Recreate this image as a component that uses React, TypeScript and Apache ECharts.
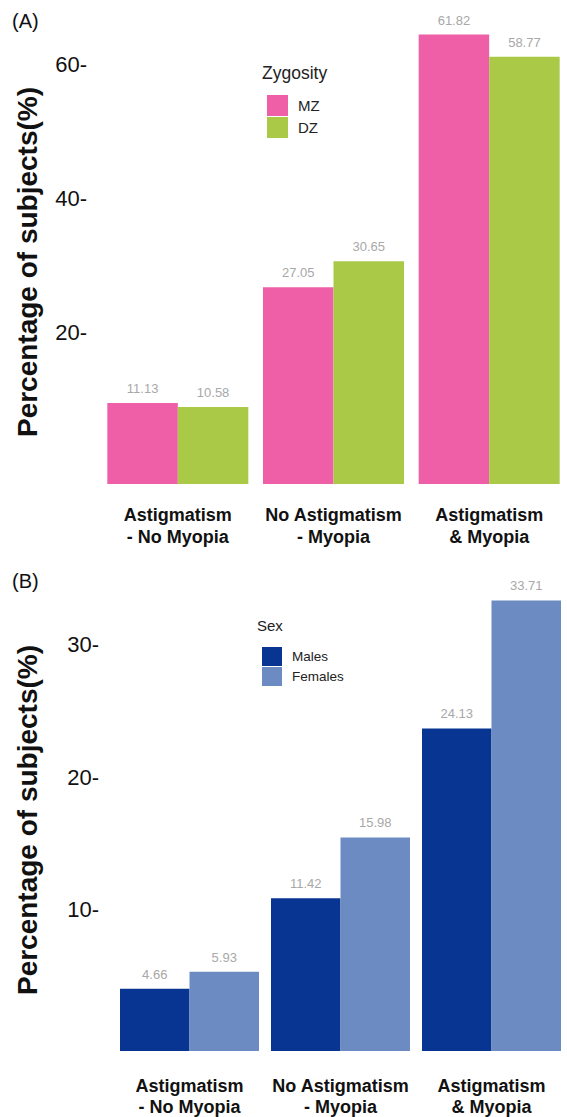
import React, { useEffect, useRef } from "react";
import * as echarts from "echarts";

const categories = ["Astigmatism\n- No Myopia", "No Astigmatism\n- Myopia", "Astigmatism\n& Myopia"];
const mzValues = [11.13, 27.05, 61.82];
const dzValues = [10.58, 30.65, 58.77];
const malesValues = [4.66, 11.42, 24.13];
const femalesValues = [5.93, 15.98, 33.71];
const tickLabelsA = [20, 40, 60];
const tickLabelsB = [10, 20, 30];

const FONT = "'Liberation Sans', Arial, Helvetica, sans-serif";

export default function App() {
  const ref = useRef<HTMLDivElement>(null);
  useEffect(() => {
    document.body.style.margin = "0";
    const chart = echarts.init(ref.current!, null, { renderer: "svg" });
    const valueLabel = {
      show: true,
      position: "top",
      distance: 8,
      color: "#a8a8a8",
      fontSize: 13,
      fontFamily: FONT,
    };
    const xAxisBase = {
      type: "category",
      data: categories,
      axisLine: { show: false },
      axisTick: { show: false },
      splitLine: { show: false },
    };
    const option: any = {
      animation: false,
      backgroundColor: "#ffffff",
      grid: [
        { left: 100, width: 469, top: 20, height: 464 },
        { left: 114, width: 463, top: 575, height: 479 },
      ],
      xAxis: [
        {
          ...xAxisBase,
          gridIndex: 0,
          axisLabel: { interval: 0, hideOverlap: false, fontFamily: FONT, fontSize: 18, fontWeight: "bold", color: "#111", lineHeight: 22, margin: 20 },
        },
        {
          ...xAxisBase,
          gridIndex: 1,
          axisLabel: { interval: 0, hideOverlap: false, fontFamily: FONT, fontSize: 18, fontWeight: "bold", color: "#111", lineHeight: 21, margin: 24 },
        },
      ],
      yAxis: [
        {
          type: "value", gridIndex: 0, min: 0, max: 63.82,
          axisLine: { show: false }, axisTick: { show: false }, axisLabel: { show: false }, splitLine: { show: false },
        },
        {
          type: "value", gridIndex: 0, position: "left", min: -2.77, max: 66.74,
          axisLine: { show: false }, axisTick: { show: false }, splitLine: { show: false },
          axisLabel: {
            customValues: tickLabelsA,
            formatter: (v: number) => v + "-",
            fontFamily: FONT, fontSize: 22, color: "#111", margin: 13,
          },
        },
        {
          type: "value", gridIndex: 1, min: 0, max: 35.61,
          axisLine: { show: false }, axisTick: { show: false }, axisLabel: { show: false }, splitLine: { show: false },
        },
        {
          type: "value", gridIndex: 1, position: "left", min: -0.64, max: 35.24,
          axisLine: { show: false }, axisTick: { show: false }, splitLine: { show: false },
          axisLabel: {
            customValues: tickLabelsB,
            formatter: (v: number) => v + "-",
            fontFamily: FONT, fontSize: 22, color: "#111", margin: 15,
          },
        },
      ],
      legend: [
        {
          data: ["MZ", "DZ"], orient: "vertical", left: 262, top: 90,
          itemWidth: 21, itemHeight: 21, itemGap: 1, icon: "rect",
          textStyle: { fontFamily: FONT, fontSize: 15, color: "#222", padding: [0, 0, 0, 5] },
          selectedMode: false,
        },
        {
          data: ["Males", "Females"], orient: "vertical", left: 257, top: 642,
          itemWidth: 20, itemHeight: 19, itemGap: 1, icon: "rect",
          textStyle: { fontFamily: FONT, fontSize: 13.5, color: "#222", padding: [0, 0, 0, 5] },
          selectedMode: false,
        },
      ],
      graphic: [
        { type: "text", x: 12, y: 21, style: { text: "(A)", font: `20px ${FONT}`, fill: "#111", textVerticalAlign: "middle" } },
        { type: "text", x: 12, y: 581, style: { text: "(B)", font: `20px ${FONT}`, fill: "#111", textVerticalAlign: "middle" } },
        { type: "text", x: 262, y: 73, style: { text: "Zygosity", font: `17.5px ${FONT}`, fill: "#222", textVerticalAlign: "middle" } },
        { type: "text", x: 257, y: 625, style: { text: "Sex", font: `15px ${FONT}`, fill: "#222", textVerticalAlign: "middle" } },
        {
          type: "text", x: 27, y: 262, rotation: Math.PI / 2,
          style: { text: "Percentage of subjects(%)", font: `bold 28px ${FONT}`, fill: "#111", textAlign: "center", textVerticalAlign: "middle" },
        },
        {
          type: "text", x: 27, y: 820, rotation: Math.PI / 2,
          style: { text: "Percentage of subjects(%)", font: `bold 28px ${FONT}`, fill: "#111", textAlign: "center", textVerticalAlign: "middle" },
        },
      ],
      series: [
        { name: "MZ", type: "bar", xAxisIndex: 0, yAxisIndex: 0, data: mzValues, barWidth: 70.5, barGap: "0%", itemStyle: { color: "#ee5fa8" }, label: valueLabel },
        { name: "DZ", type: "bar", xAxisIndex: 0, yAxisIndex: 0, data: dzValues, barWidth: 70.5, barGap: "0%", itemStyle: { color: "#a9c947" }, label: valueLabel },
        { name: "Males", type: "bar", xAxisIndex: 1, yAxisIndex: 2, data: malesValues, barWidth: 69.5, barGap: "0%", itemStyle: { color: "#083591" }, label: valueLabel },
        { name: "Females", type: "bar", xAxisIndex: 1, yAxisIndex: 2, data: femalesValues, barWidth: 69.5, barGap: "0%", itemStyle: { color: "#6b8bc2" }, label: valueLabel },
      ],
    };
    chart.setOption(option);
    return () => chart.dispose();
  }, []);
  return <div ref={ref} style={{ width: 567, height: 1117 }} />;
}
